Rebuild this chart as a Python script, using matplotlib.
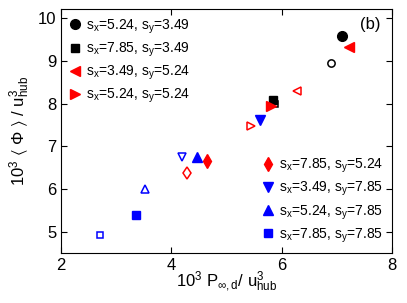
import numpy as np
import matplotlib
matplotlib.use("Agg")
import matplotlib.pyplot as plt
from matplotlib.lines import Line2D

plt.rcParams['font.family'] = ['Liberation Sans', 'DejaVu Sans']
plt.rcParams['mathtext.fontset'] = 'custom'
plt.rcParams['mathtext.rm'] = 'Liberation Sans'
plt.rcParams['mathtext.it'] = 'Liberation Sans'
plt.rcParams['mathtext.bf'] = 'Liberation Sans:bold'

# ---- data: (filled point, open point) per case ----
labels = [r'$\mathregular{s_x}$=5.24, $\mathregular{s_y}$=3.49',
          r'$\mathregular{s_x}$=7.85, $\mathregular{s_y}$=3.49',
          r'$\mathregular{s_x}$=3.49, $\mathregular{s_y}$=5.24',
          r'$\mathregular{s_x}$=5.24, $\mathregular{s_y}$=5.24',
          r'$\mathregular{s_x}$=7.85, $\mathregular{s_y}$=5.24',
          r'$\mathregular{s_x}$=3.49, $\mathregular{s_y}$=7.85',
          r'$\mathregular{s_x}$=5.24, $\mathregular{s_y}$=7.85',
          r'$\mathregular{s_x}$=7.85, $\mathregular{s_y}$=7.85']
markers = ['o', 's', '<', '>', 'd', 'v', '^', 's']
colors  = ['k', 'k', 'r', 'r', 'r', 'b', 'b', 'b']
x_filled = [7.10, 5.85, 7.22, 5.80, 4.64, 5.61, 4.46, 3.36]
y_filled = [9.60, 8.08, 9.33, 7.94, 6.65, 7.61, 6.74, 5.39]
x_open   = [6.90, 5.88, 6.27, 5.45, 4.28, 4.19, 3.53, 2.71]
y_open   = [8.96, 8.00, 8.29, 7.49, 6.38, 6.75, 6.01, 4.92]

fig = plt.figure(figsize=(4.07, 3.03), dpi=100)
ax = fig.add_axes([0.150, 0.165, 0.813, 0.805])

sizes = {'o': 7, 's': 5.2, '<': 7.5, '>': 7.5, 'd': 7.5, 'v': 7.5, '^': 7.5}
open_scale = {'o': 0.75, 's': 0.9, '<': 0.85, '>': 0.85, 'd': 0.85, 'v': 0.85, '^': 0.85}
for i in range(len(labels)):
    m, c = markers[i], colors[i]
    ax.plot(x_open[i], y_open[i], m, mfc='white', mec=c, mew=1.1,
            ms=sizes[m] * open_scale[m], zorder=2)
for i in range(len(labels)):
    m, c = markers[i], colors[i]
    ax.plot(x_filled[i], y_filled[i], m, mfc=c, mec=c, ms=sizes[m], zorder=3)

handles = [Line2D([], [], ls='none', marker=markers[i], color=colors[i],
                  ms=sizes[markers[i]]) for i in range(len(labels))]

leg1 = ax.legend(handles[:4], labels[:4], loc='upper left', frameon=False,
                 fontsize=10, handlelength=0.8, handletextpad=0.4,
                 labelspacing=0.35, borderaxespad=0.2)
ax.add_artist(leg1)
ax.legend(handles[4:], labels[4:], loc='lower right', frameon=False,
          fontsize=10, handlelength=0.8, handletextpad=0.4,
          labelspacing=0.35, borderaxespad=0.2)

ax.text(7.6, 9.86, '(b)', fontsize=12, ha='center', va='center')

ax.set_xlim(2, 8)
ax.set_ylim(4.5, 10.22)
ax.set_xticks([2, 4, 6, 8])
ax.set_yticks([5, 6, 7, 8, 9, 10])
ax.tick_params(direction='in', top=True, right=True, labelsize=12, length=4)
ax.set_xlabel(r'$\mathregular{10^3\ P_{\infty,d}/\ u^3_{hub}}$', fontsize=12, labelpad=-2)
ax.set_ylabel(r'$\mathregular{10^3\ \langle\ \Phi\ \rangle\ /\ u^3_{hub}}$', fontsize=12, labelpad=4)

fig.savefig('out.png', dpi=100)
